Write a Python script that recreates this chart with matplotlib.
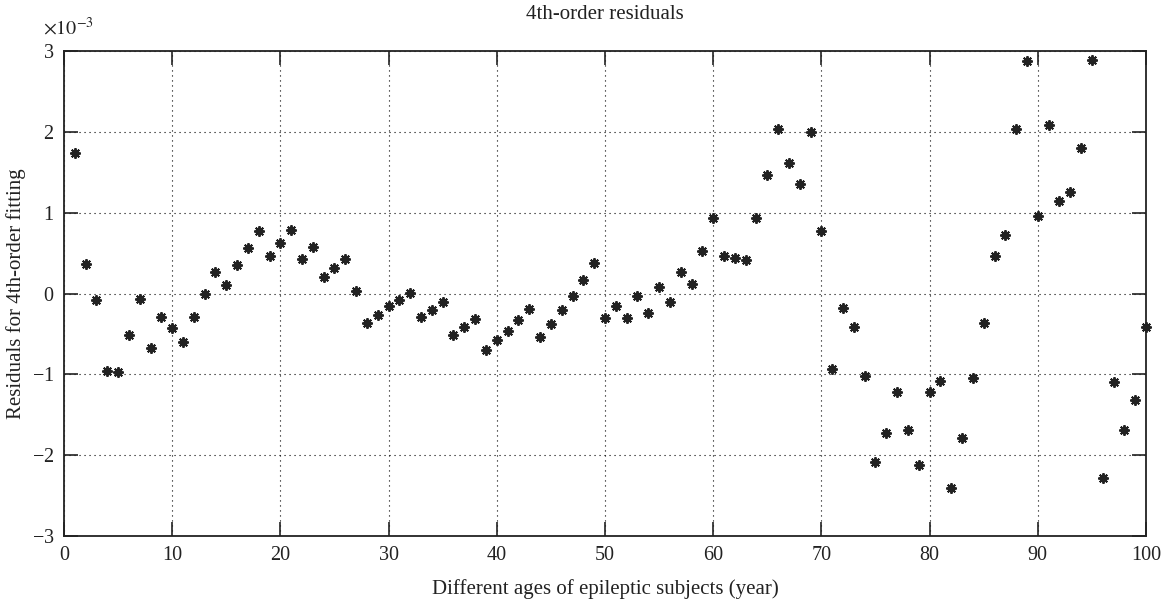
import numpy as np
import matplotlib
matplotlib.use("Agg")
import matplotlib.pyplot as plt
from matplotlib.ticker import ScalarFormatter

plt.rcParams['font.family'] = ['Liberation Serif', 'DejaVu Serif']
plt.rcParams['mathtext.fontset'] = 'stix'

# ages 1..100 and 4th-order residuals (units of 1e-3)
ages = np.arange(1, 101)
resid_e3 = [
    1.74, 0.37, -0.08, -0.96, -0.97, -0.51, -0.07, -0.67, -0.29, -0.43,
    -0.60, -0.29, 0.00, 0.27, 0.11, 0.35, 0.56, 0.77, 0.46, 0.62,
    0.79, 0.43, 0.57, 0.20, 0.32, 0.43, 0.03, -0.36, -0.26, -0.16,
    -0.08, 0.01, -0.29, -0.20, -0.11, -0.51, -0.41, -0.31, -0.70, -0.58,
    -0.46, -0.33, -0.19, -0.54, -0.38, -0.21, -0.03, 0.17, 0.38, -0.30,
    -0.15, -0.30, -0.03, -0.24, 0.08, -0.10, 0.26, 0.12, 0.52, 0.93,
    0.47, 0.44, 0.42, 0.93, 1.47, 2.04, 1.62, 1.35, 2.00, 0.77,
    -0.93, -0.18, -0.42, -1.02, -2.09, -1.72, -1.22, -1.69, -2.12, -1.22,
    -1.08, -2.41, -1.79, -1.05, -0.36, 0.46, 0.73, 2.04, 2.88, 0.96,
    2.08, 1.14, 1.25, 1.80, 2.89, -2.28, -1.10, -1.69, -1.32, -0.41,
]
resid = np.array(resid_e3) * 1e-3

xticks = np.arange(0, 101, 10)
yticks = np.arange(-3, 4) * 1e-3

fig = plt.figure(figsize=(11.67, 6.05), dpi=100)
ax = fig.add_axes([0.0548, 0.114, 0.9272, 0.8017])

ax.plot(ages, resid, linestyle='none', marker=(8, 2, 0), color='#222222',
        markersize=7.5, markeredgewidth=1.4, clip_on=False)

ax.set_xlim(0, 100)
ax.set_ylim(-3e-3, 3e-3)
ax.set_xticks(xticks)
ax.set_yticks(yticks)

fmt = ScalarFormatter(useMathText=True)
fmt.set_powerlimits((0, 0))
ax.yaxis.set_major_formatter(fmt)
ax.yaxis.get_offset_text().set_visible(False)
fig.text(0.037, 0.935, r'$\times10^{-3}$', fontsize=14.5, color='#222222',
         va='bottom', ha='left')

ax.grid(True, linestyle=(0, (1, 3.5)), color='black', linewidth=0.8)
ax.tick_params(direction='in', length=10, width=1.2, top=True, right=True,
               labelsize=14.5, colors='#222222', pad=7)
for s in ax.spines.values():
    s.set_linewidth(1.3)
    s.set_color('#222222')

ax.set_title('4th-order residuals', fontsize=15, pad=23, color='#222222')
ax.set_xlabel('Different ages of epileptic subjects (year)', fontsize=15,
              color='#222222', labelpad=10)
ax.set_ylabel('Residuals for 4th-order fitting', fontsize=15,
              color='#222222', labelpad=4)

fig.savefig('out.png', dpi=100)
